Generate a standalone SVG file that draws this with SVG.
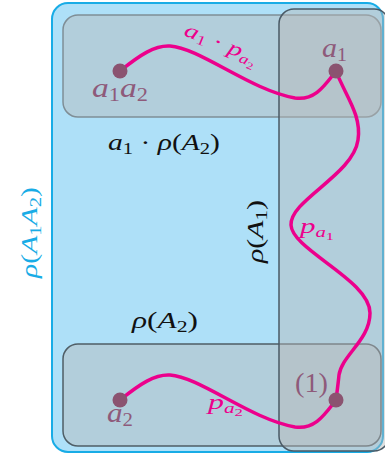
<svg xmlns="http://www.w3.org/2000/svg" width="385" height="459" viewBox="0 0 385 459">
<style>
.m{font-family:"Liberation Serif","DejaVu Serif",serif;font-style:italic;}
.r{font-family:"Liberation Serif","DejaVu Serif",serif;font-style:normal;}
.pk{fill:#ec008c;}
.pu{fill:#8e5a7a;}
.bk{fill:#111;}
.path{fill:none;stroke:#ec008c;stroke-width:3.5;stroke-linecap:round;}
.dot{fill:#8b5370;}
.box{fill:#b7b7b7;fill-opacity:0.45;}
</style>
<g id="outer">
<rect x="52" y="3" width="331" height="449" rx="16" fill="#aee0f8" stroke="#18ace6" stroke-width="2"/>
</g>
<g id="top-box">
<rect x="63" y="15" width="318" height="102" rx="15" class="box" stroke="#7f8e96" stroke-width="1.5"/>
</g>
<g id="bottom-box">
<rect x="63" y="344" width="318" height="102" rx="15" class="box" stroke="#4f5e66" stroke-width="1.5"/>
</g>
<g id="right-box">
<rect x="279" y="9" width="110" height="442" rx="15" class="box" stroke="#4a5a66" stroke-width="1.5"/>
</g>
<g id="connectors">
<path class="path" d="M120,71 C140,55 155,45 170,46 C200,48 250,90 295,98 C315,101 325,85 336,71"/>
<path class="path" d="M336,71 C345,95 362,115 358,140 C353,175 290,200 291,225 C292,250 370,280 370,313 C370,340 342,355 339,375 C338,385 337,392 336,400"/>
<path class="path" d="M120,400 C140,384 155,374 170,375 C200,377 250,419 295,427 C315,430 325,414 336,400"/>
</g>
<g id="n-a1a2"><circle cx="120" cy="71" r="7.5" class="dot"/><text x="92" y="97" font-size="27" class="m pu" textLength="56" lengthAdjust="spacingAndGlyphs">a<tspan font-size="18" dy="4" class="r">1</tspan><tspan dy="-4">a</tspan><tspan font-size="18" dy="4" class="r">2</tspan></text></g>
<g id="n-a1"><circle cx="336" cy="71" r="7.5" class="dot"/><text x="322" y="57" font-size="27" class="m pu" textLength="25" lengthAdjust="spacingAndGlyphs">a<tspan font-size="18" dy="4" class="r">1</tspan></text></g>
<g id="n-1"><circle cx="336" cy="400" r="7.5" class="dot"/><text x="295" y="392" font-size="27" class="r pu" textLength="33" lengthAdjust="spacingAndGlyphs">(1)</text></g>
<g id="n-a2"><circle cx="120" cy="400" r="7.5" class="dot"/><text x="107" y="422" font-size="27" class="m pu" textLength="26" lengthAdjust="spacingAndGlyphs">a<tspan font-size="18" dy="4" class="r">2</tspan></text></g>
<g id="labels">
<text transform="translate(183,35) rotate(22)" font-size="21" class="m pk" textLength="77" lengthAdjust="spacingAndGlyphs">a<tspan font-size="14" dy="3" class="r">1</tspan><tspan dy="-3" class="r"> · </tspan>p<tspan font-size="14" dy="4">a</tspan><tspan font-size="10" dy="3" class="r">2</tspan></text>
<text x="108" y="150" font-size="23" class="m bk" textLength="112" lengthAdjust="spacingAndGlyphs">a<tspan font-size="16" dy="4" class="r">1</tspan><tspan dy="-4" class="r"> · </tspan>ρ<tspan class="r">(</tspan>A<tspan font-size="16" dy="4" class="r">2</tspan><tspan dy="-4" class="r">)</tspan></text>
<text x="132" y="328" font-size="23" class="m bk" textLength="66" lengthAdjust="spacingAndGlyphs">ρ<tspan class="r">(</tspan>A<tspan font-size="16" dy="4" class="r">2</tspan><tspan dy="-4" class="r">)</tspan></text>
<text transform="translate(263,263) rotate(-90)" font-size="23" class="m bk" textLength="63" lengthAdjust="spacingAndGlyphs">ρ<tspan class="r">(</tspan>A<tspan font-size="16" dy="4" class="r">1</tspan><tspan dy="-4" class="r">)</tspan></text>
<text transform="translate(37,278) rotate(-90)" font-size="23" class="m" fill="#18ace6" textLength="91" lengthAdjust="spacingAndGlyphs">ρ<tspan class="r">(</tspan>A<tspan font-size="16" dy="4" class="r">1</tspan><tspan dy="-4">A</tspan><tspan font-size="16" dy="4" class="r">2</tspan><tspan dy="-4" class="r">)</tspan></text>
<text x="300" y="233" font-size="21" class="m pk" textLength="34" lengthAdjust="spacingAndGlyphs">p<tspan font-size="14" dy="4">a</tspan><tspan font-size="11" dy="3" class="r">1</tspan></text>
<text x="208" y="409" font-size="21" class="m pk" textLength="35" lengthAdjust="spacingAndGlyphs">p<tspan font-size="14" dy="4">a</tspan><tspan font-size="11" dy="3" class="r">2</tspan></text>
</g>
</svg>
